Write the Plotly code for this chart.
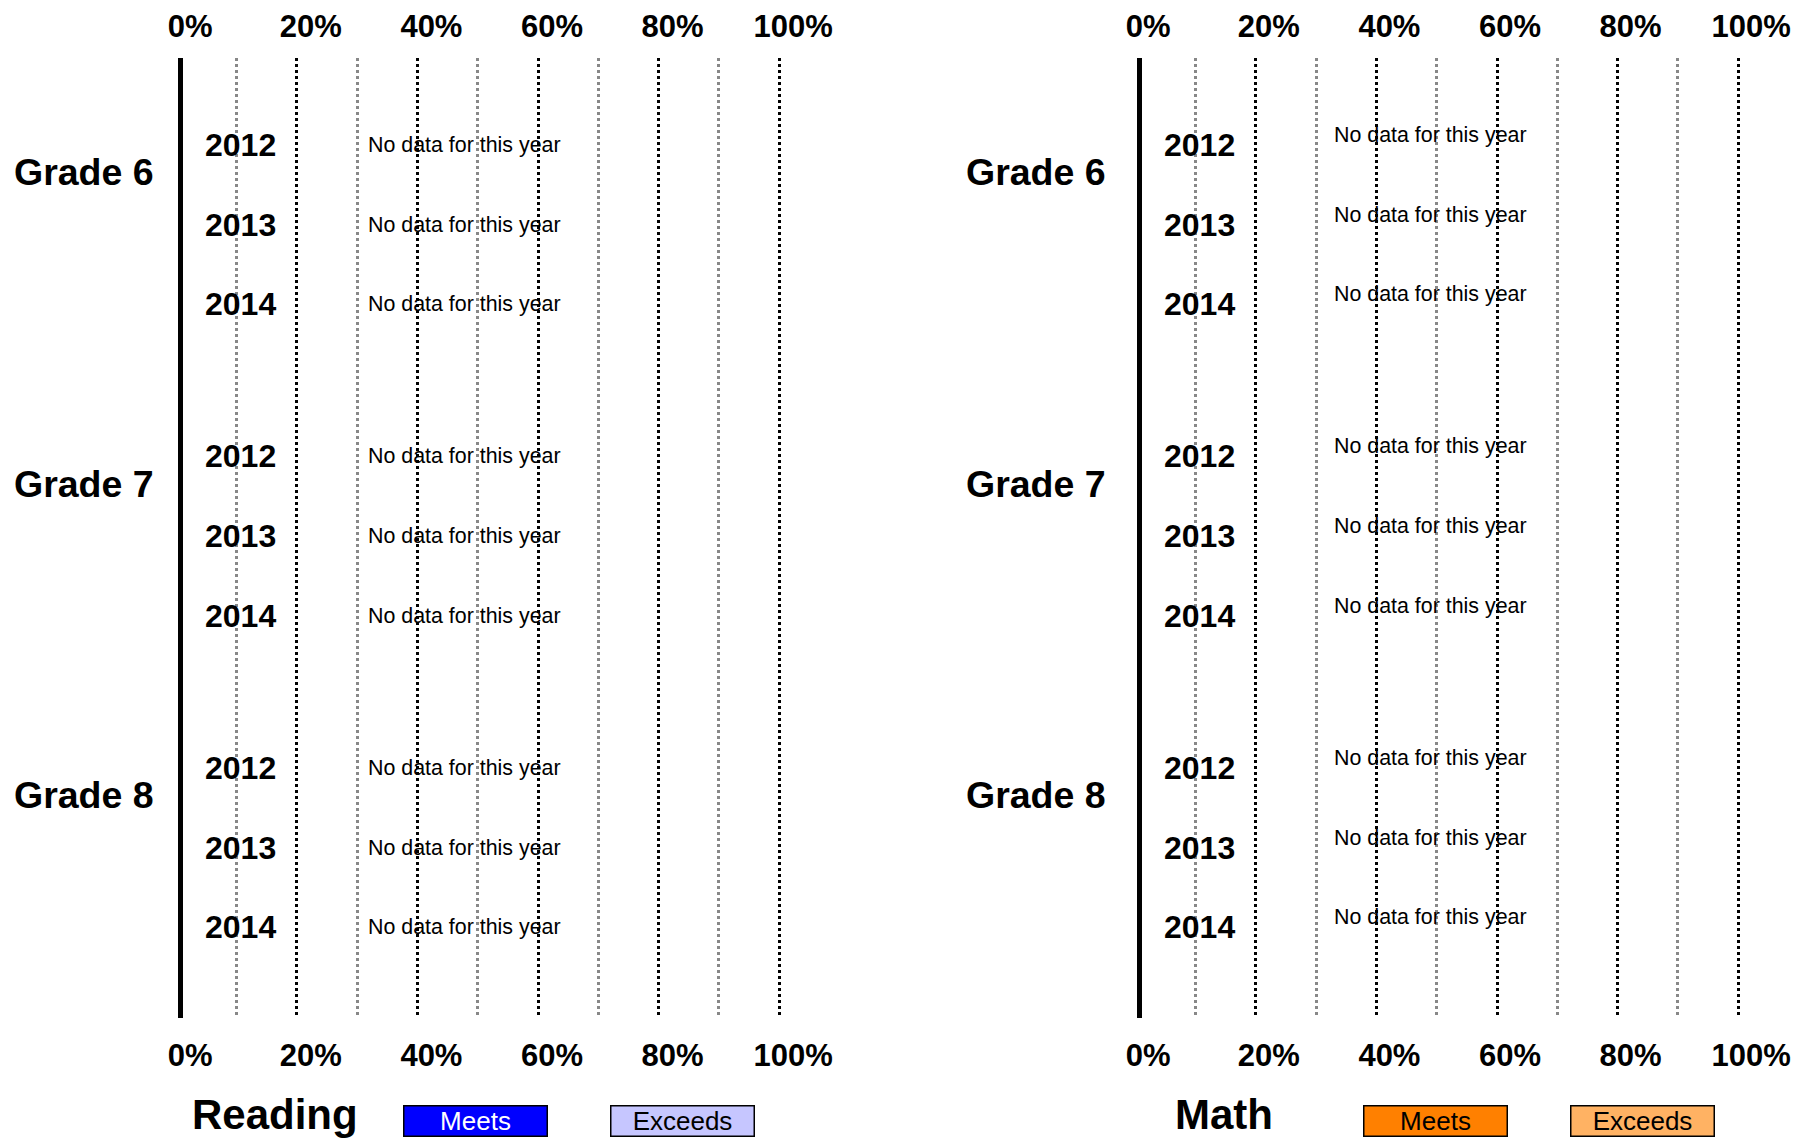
import plotly.graph_objects as go

# ---------------- data ----------------
grades = ["Grade 6", "Grade 7", "Grade 8"]
years = ["2012", "2013", "2014"]
# percentages per (grade, year); None = no data for that year
reading_meets = [None, None, None, None, None, None, None, None, None]
reading_exceeds = [None, None, None, None, None, None, None, None, None]
math_meets = [None, None, None, None, None, None, None, None, None]
math_exceeds = [None, None, None, None, None, None, None, None, None]
pct_ticks = [0, 20, 40, 60, 80, 100]
pct_labels = ["0%", "20%", "40%", "60%", "80%", "100%"]
major_grid = [20, 40, 60, 80, 100]
minor_grid = [10, 30, 50, 70, 90]
no_data_text = "No data for this year"

# ---------------- layout helpers ----------------
W, H = 1796, 1130   # fits inside the page's 8px body margin without scrollbars
OFF = 8
FONT = "Liberation Sans, Arial, sans-serif"
BLOCK = 3.91  # rows per grade block (3 years + gap)
SCALE = 6.03  # screen px per percent

rows = []
row_years = []
for gi, g in enumerate(grades):
    for yi, y in enumerate(years):
        rows.append(gi * BLOCK + yi)
        row_years.append(y)


def px(x):
    return (x - OFF) / W


def py(y):
    return 1 - (y - OFF) / H


ydom = [py(1018), py(58)]
yrange = [10.96, -1.092]
x_range = [-0.33, 104.5]
left_zero, right_zero = 176.2, 1135.2
left_dom = [px(left_zero + x_range[0] * SCALE), px(left_zero + x_range[1] * SCALE)]
right_dom = [px(right_zero + x_range[0] * SCALE), px(right_zero + x_range[1] * SCALE)]

fig = go.Figure()

panels = [
    dict(name="Reading", meets=reading_meets, exceeds=reading_exceeds,
         c_meets="#0000FF", c_exc="#C6C6FF", xa="x", ya="y", xtop="x3", xgrid="x5",
         nodata_x=31.4, nodata_shift=0, grade_x=83.5, year_x=240),
    dict(name="Math", meets=math_meets, exceeds=math_exceeds,
         c_meets="#FF8000", c_exc="#FFB263", xa="x2", ya="y2", xtop="x4", xgrid="x6",
         nodata_x=32.6, nodata_shift=10, grade_x=1036, year_x=1199),
]

for p in panels:
    fig.add_trace(go.Bar(y=rows, x=p["meets"], orientation="h", marker_color=p["c_meets"],
                         name="Meets", xaxis=p["xa"], yaxis=p["ya"], showlegend=False, width=0.6))
    fig.add_trace(go.Bar(y=rows, x=p["exceeds"], orientation="h", marker_color=p["c_exc"],
                         name="Exceeds", xaxis=p["xa"], yaxis=p["ya"], showlegend=False, width=0.6))
    # carriers so the overlay axes (top labels, grid) are drawn
    for xa in (p["xtop"], p["xgrid"]):
        fig.add_trace(go.Scatter(x=[None], y=[None], xaxis=xa, yaxis=p["ya"], mode="markers",
                                 showlegend=False, hoverinfo="skip"))

tickfont = dict(family=FONT, size=31, color="black", weight="bold")


def label_axis(dom, side, anchor, standoff, shift, overlaying=None):
    d = dict(domain=dom, range=x_range, side=side, anchor=anchor,
             tickmode="array", tickvals=pct_ticks, ticktext=pct_labels,
             tickfont=tickfont, ticks="", showgrid=False, zeroline=False,
             showline=False, ticklabelshift=shift, ticklabelstandoff=standoff,
             automargin=False, fixedrange=True)
    if overlaying:
        d["overlaying"] = overlaying
    return d


def grid_axis(dom, anchor, overlaying):
    return dict(domain=dom, range=x_range, anchor=anchor, overlaying=overlaying,
                tickmode="array", tickvals=major_grid, showticklabels=False,
                ticks="", showgrid=True, gridcolor="black", gridwidth=3,
                griddash="3px,3px", zeroline=False, showline=False, fixedrange=True,
                automargin=False,
                minor=dict(tickmode="array", tickvals=minor_grid, showgrid=True,
                           gridcolor="#888888", gridwidth=2.5, griddash="3px,3px", ticks=""))


def y_axis(line_x):
    return dict(domain=ydom, range=yrange, anchor="free", position=px(line_x),
                showticklabels=False, ticks="", showgrid=False, zeroline=False,
                showline=True, linewidth=5, linecolor="black", fixedrange=True,
                automargin=False)


fig.update_layout(
    width=W, height=H,
    margin=dict(l=0, r=0, t=0, b=0, pad=0, autoexpand=False),
    paper_bgcolor="white", plot_bgcolor="white",
    barmode="stack",
    xaxis=label_axis(left_dom, "bottom", "y", 16, 14),
    xaxis3=label_axis(left_dom, "top", "y", 14, 14, overlaying="x"),
    xaxis5=grid_axis(left_dom, "y", "x"),
    xaxis2=label_axis(right_dom, "bottom", "y2", 16, 13),
    xaxis4=label_axis(right_dom, "top", "y2", 14, 13, overlaying="x2"),
    xaxis6=grid_axis(right_dom, "y2", "x2"),
    yaxis=y_axis(180),
    yaxis2=y_axis(1139),
    font=dict(family=FONT, color="black"),
)

annotations = []
for p in panels:
    # grade labels
    for gi, g in enumerate(grades):
        annotations.append(dict(text=g, xref="paper", x=px(p["grade_x"]), xanchor="center",
                                yref=p["ya"], y=gi * BLOCK + 0.34, yanchor="middle", showarrow=False,
                                font=dict(family=FONT, size=37.5, color="black", weight="bold")))
    # year labels
    for r, yl in zip(rows, row_years):
        annotations.append(dict(text=yl, xref="paper", x=px(p["year_x"]), xanchor="center",
                                yref=p["ya"], y=r, yanchor="middle", showarrow=False,
                                font=dict(family=FONT, size=32, color="black", weight="bold")))
    # no-data notes
    for i, r in enumerate(rows):
        if p["meets"][i] is None and p["exceeds"][i] is None:
            annotations.append(dict(text=no_data_text, xref=p["xa"], x=p["nodata_x"], xanchor="left",
                                    yref=p["ya"], y=r, yanchor="middle", yshift=p["nodata_shift"],
                                    showarrow=False,
                                    font=dict(family=FONT, size=21.4, color="black")))

# legends
legend_items = [
    ("Reading", 275, "#0000FF", "white", 476, "#C6C6FF", 682.5),
    ("Math", 1224, "#FF8000", "black", 1435.5, "#FFB263", 1642),
]
for name, nx, cm, tcm, mx, ce, ex in legend_items:
    annotations.append(dict(text=name, xref="paper", x=px(nx), xanchor="center",
                            yref="paper", y=py(1114), yanchor="middle", showarrow=False,
                            font=dict(family=FONT, size=42, color="black", weight="bold")))
    annotations.append(dict(text="Meets", xref="paper", x=px(mx), xanchor="center",
                            yref="paper", y=py(1121), yanchor="middle", showarrow=False,
                            width=142, height=29, bgcolor=cm, bordercolor="black", borderwidth=1.5,
                            borderpad=0, font=dict(family=FONT, size=26, color=tcm)))
    annotations.append(dict(text="Exceeds", xref="paper", x=px(ex), xanchor="center",
                            yref="paper", y=py(1121), yanchor="middle", showarrow=False,
                            width=142, height=29, bgcolor=ce, bordercolor="black", borderwidth=1.5,
                            borderpad=0, font=dict(family=FONT, size=26, color="black")))

fig.update_layout(annotations=annotations)

fig.write_html("out.html")
